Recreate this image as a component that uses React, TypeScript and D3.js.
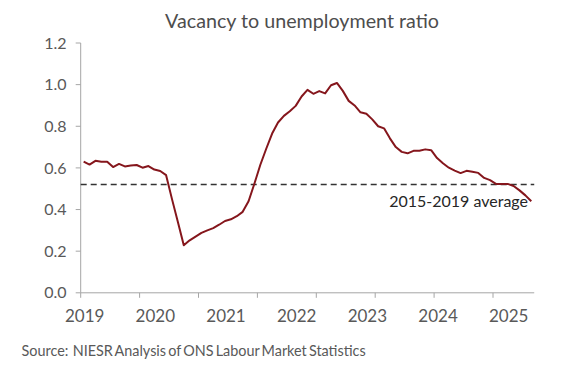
import React from "react";
import * as d3 from "d3";

// monthly vacancy / unemployment ratio, Jan 2019 .. May 2025
const v2019 = [0.630, 0.616, 0.634, 0.630, 0.630, 0.604, 0.619, 0.607, 0.611, 0.614, 0.601, 0.609];
const v2020 = [0.592, 0.585, 0.565, 0.450, 0.340, 0.228, 0.252, 0.270, 0.288, 0.300, 0.311, 0.327];
const v2021 = [0.345, 0.353, 0.368, 0.389, 0.440, 0.525, 0.615, 0.692, 0.765, 0.818, 0.850, 0.872];
const v2022 = [0.898, 0.943, 0.975, 0.956, 0.969, 0.958, 0.997, 1.008, 0.970, 0.922, 0.900, 0.867];
const v2023 = [0.860, 0.833, 0.800, 0.790, 0.742, 0.700, 0.677, 0.670, 0.682, 0.682, 0.689, 0.685];
const v2024 = [0.647, 0.622, 0.601, 0.587, 0.575, 0.586, 0.582, 0.576, 0.552, 0.541, 0.523, 0.523];
const v2025 = [0.523, 0.513, 0.492, 0.468, 0.440];

const years = [2019, 2020, 2021, 2022, 2023, 2024, 2025];
const avg2015to2019 = 0.52;
const yTicks = [0, 0.2, 0.4, 0.6, 0.8, 1.0, 1.2];

const ratios = [...v2019, ...v2020, ...v2021, ...v2022, ...v2023, ...v2024, ...v2025];
const months = ratios.map((_, i) => `${years[0] + Math.floor(i / 12)}-${String((i % 12) + 1).padStart(2, "0")}`);

const W = 586;
const H = 366;
const margin = { top: 43, right: 52, bottom: 73, left: 80.7 };
const font = "Lato, 'Open Sans', sans-serif";
const grey = "#595959";

export default function App() {
  const x = d3.scaleBand<string>()
    .domain(months)
    .range([margin.left, margin.left + months.length * 5.89])
    .padding(0);
  const y = d3.scaleLinear().domain([0, 1.2]).range([H - margin.bottom - 0.2, margin.top]);

  const line = d3.line<number>()
    .x((_, i) => (x(months[i]) as number) + x.bandwidth() / 2)
    .y((d) => y(d));

  const x0 = margin.left;
  const x1 = x.range()[1];
  const y0 = y(0);

  // tick marks every 10 months, labels every January
  const tickIdx = d3.range(0, months.length, 10);

  return (
    <div style={{ position: "absolute", left: 0, top: 0 }}>
      <svg width={W} height={H} style={{ display: "block", background: "#fff" }} fontFamily={font}>
        <text x={302} y={27.5} textAnchor="middle" fontSize={19.7} fill="#4d4d4d">
          Vacancy to unemployment ratio
        </text>

        {/* y axis */}
        <line x1={x0} x2={x0} y1={y(1.2)} y2={y0} stroke="#a6a6a6" strokeWidth={1} />
        {yTicks.map((t) => (
          <g key={t}>
            <line x1={x0 - 5} x2={x0} y1={y(t)} y2={y(t)} stroke="#a6a6a6" strokeWidth={1} />
            <text x={66.5} y={y(t)} dy="0.35em" textAnchor="end" fontSize={16} fill={grey}>
              {d3.format(".1f")(t)}
            </text>
          </g>
        ))}

        {/* x axis */}
        <line x1={x0} x2={x1} y1={y0} y2={y0} stroke="#a6a6a6" strokeWidth={1} />
        {tickIdx.map((i) => (
          <line key={i} x1={x(months[i])} x2={x(months[i])} y1={y0} y2={y0 + 5} stroke="#a6a6a6" strokeWidth={1} />
        ))}
        {years.map((yr, k) => {
          const m = months[k * 12];
          return (
            <text key={yr} x={(x(m) as number) + x.bandwidth() / 2 + 1} y={322} textAnchor="middle" fontSize={17} fill={grey}>
              {yr}
            </text>
          );
        })}

        {/* 2015-2019 average */}
        <line x1={x0} x2={x1} y1={y(avg2015to2019)} y2={y(avg2015to2019)}
          stroke="#333" strokeWidth={1.6} strokeDasharray="6,4" />
        <text x={528} y={207} textAnchor="end" fontSize={16} fill="#262626">
          2015-2019 average
        </text>

        <path d={line(ratios) as string} fill="none" stroke="#85161c" strokeWidth={2} strokeLinejoin="round" />

        <text x={21.5} y={356} fontSize={14.4} fill={grey} wordSpacing={-1.5} style={{ whiteSpace: "pre" }}>
          {"Source:  NIESR Analysis of ONS Labour Market Statistics"}
        </text>
      </svg>
    </div>
  );
}
